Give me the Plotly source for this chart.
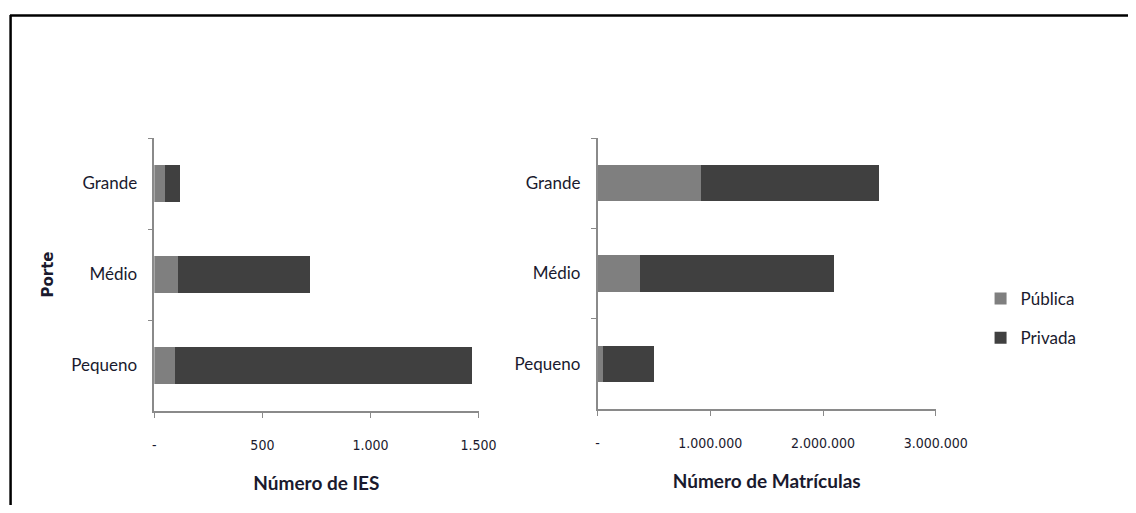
import plotly.graph_objects as go

categories = ["Pequeno", "Médio", "Grande"]
ies_publica = [94, 111, 51]
ies_privada = [1378, 607, 69]
mat_publica = [50000, 380000, 920000]
mat_privada = [450000, 1720000, 1580000]

ies_ticks = [0, 500, 1000, 1500]
ies_ticktext = ["-", "500", "1.000", "1.500"]
mat_ticks = [0, 1000000, 2000000, 3000000]
mat_ticktext = ["-", "1.000.000", "2.000.000", "3.000.000"]

C_PUB = "#7f7f7f"
C_PRIV = "#404040"
TXT = "#1a1a2e"
AX = "#8a8a8a"
OFF = 8
SX = 0.97
W, H = 1155, 513 - 2 * OFF


def fx(sx):
    return sx / SX - OFF


def px_x(a, b):
    return [fx(a) / W, fx(b) / W]


def px_y(top, bottom):
    return [(H - (bottom - OFF)) / H, (H - (top - OFF)) / H]


fig = go.Figure()
fig.add_trace(go.Bar(y=categories, x=ies_publica, name="Pública", orientation="h",
                     marker=dict(color=C_PUB, line=dict(width=0)), xaxis="x", yaxis="y",
                     legendgroup="a"))
fig.add_trace(go.Bar(y=categories, x=ies_privada, name="Privada", orientation="h",
                     marker=dict(color=C_PRIV, line=dict(width=0)), xaxis="x", yaxis="y",
                     legendgroup="b"))
fig.add_trace(go.Bar(y=categories, x=mat_publica, name="Pública", orientation="h",
                     marker=dict(color=C_PUB, line=dict(width=0)), xaxis="x2", yaxis="y2",
                     showlegend=False, legendgroup="a"))
fig.add_trace(go.Bar(y=categories, x=mat_privada, name="Privada", orientation="h",
                     marker=dict(color=C_PRIV, line=dict(width=0)), xaxis="x2", yaxis="y2",
                     showlegend=False, legendgroup="b"))

tickfont = dict(family="Liberation Sans Narrow, DejaVu Sans Condensed, sans-serif", size=14, color=TXT)
catfont = dict(family="Lato, Open Sans, sans-serif", size=17, color=TXT)
titlefont = dict(family="Lato, Open Sans, sans-serif", size=19, color=TXT, weight="bold")

common_x = dict(showgrid=False, zeroline=False, showline=True, linecolor=AX, linewidth=1.5,
                ticks="outside", ticklen=5, tickcolor=AX, tickwidth=1.2,
                tickfont=tickfont, ticklabelstandoff=15)
common_y = dict(showgrid=False, zeroline=False, showline=True, linecolor=AX, linewidth=1.5,
                ticks="outside", ticklen=5, tickcolor=AX, tickwidth=1.2,
                tickson="boundaries", type="category",
                categoryorder="array", categoryarray=categories,
                tickfont=catfont, ticklabelstandoff=12)

fig.update_layout(
    width=W, height=H, autosize=False,
    margin=dict(l=0, r=0, t=0, b=0),
    paper_bgcolor="white", plot_bgcolor="white",
    barmode="stack", bargap=0.6,
    xaxis=dict(domain=px_x(152, 476), range=[0, 1500], anchor="y",
               tickvals=ies_ticks, ticktext=ies_ticktext,
               title=dict(text="Número de IES", font=titlefont, standoff=25),
               **common_x),
    yaxis=dict(domain=px_y(138, 411), anchor="x",
               title=dict(text="Porte", font=dict(family="DejaVu Sans, sans-serif", size=15,
                                                  color=TXT, weight="bold"), standoff=14),
               **common_y),
    xaxis2=dict(domain=px_x(595, 933), range=[0, 3000000], anchor="y2",
                tickvals=mat_ticks, ticktext=mat_ticktext,
                title=dict(text="Número de Matrículas", font=titlefont, standoff=25),
                **common_x),
    yaxis2=dict(domain=px_y(138, 409), anchor="x2", **common_y),
    legend=dict(x=1000 / W, y=(H - (281 - OFF)) / H, xanchor="left", yanchor="top",
                traceorder="grouped", tracegroupgap=14,
                font=dict(family="Lato, Open Sans, sans-serif", size=17, color=TXT),
                itemwidth=30, bgcolor="rgba(0,0,0,0)"),
    shapes=[
        dict(type="line", xref="paper", yref="paper", x0=0, x1=1.0,
             y0=(H - (15.5 - OFF)) / H, y1=(H - (15.5 - OFF)) / H,
             line=dict(color="black", width=2.5)),
        dict(type="line", xref="paper", yref="paper", x0=0.6 / W, x1=0.6 / W,
             y0=0, y1=(H - (15 - OFF)) / H,
             line=dict(color="black", width=2.5)),
    ],
)

fig.write_html("out.html")
